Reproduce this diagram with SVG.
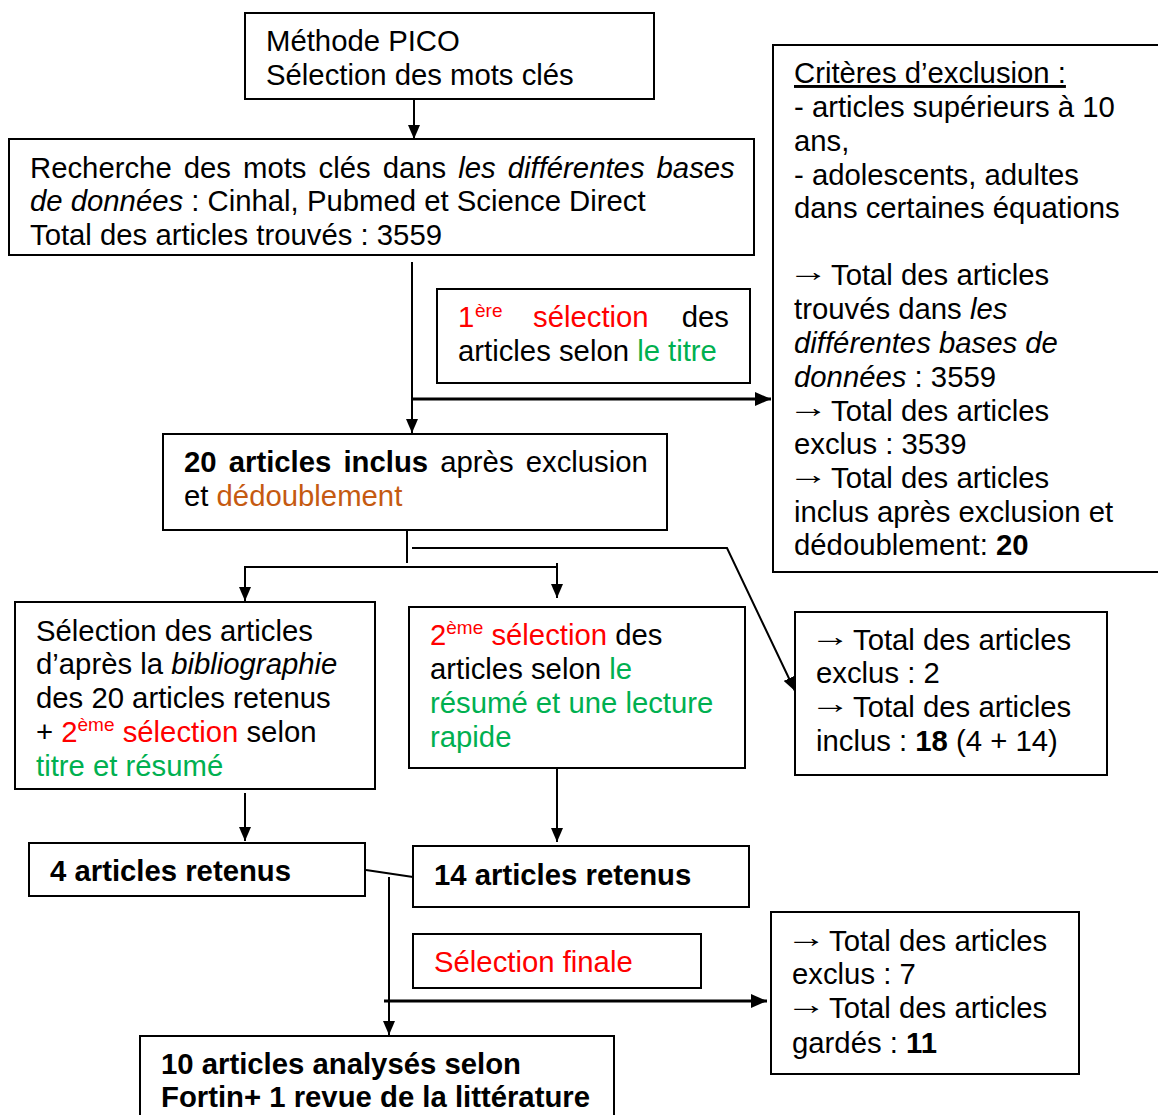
<svg xmlns="http://www.w3.org/2000/svg" width="1158" height="1115" viewBox="0 0 1158 1115">
<style>
text{font-family:"Liberation Sans",Arial,sans-serif;font-size:29.3px;fill:#000}
.box{fill:#fff;stroke:#000;stroke-width:2}
.b{font-weight:bold}
.i{font-style:italic}
.r{fill:#FF0000}
.g{fill:#00B050}
.o{fill:#C55A11}
.sup{font-size:19px}
.ln{fill:none;stroke:#000;stroke-width:2}
.thk{fill:none;stroke:#000;stroke-width:3}
</style>
<defs>
<marker id="ah" markerUnits="userSpaceOnUse" markerWidth="14" markerHeight="12" refX="14" refY="6" orient="auto">
<path d="M0,0 L14,6 L0,12 Z" fill="#000"/>
</marker>
<marker id="ahb" markerUnits="userSpaceOnUse" markerWidth="16" markerHeight="14" refX="16" refY="7" orient="auto">
<path d="M0,0 L16,7 L0,14 Z" fill="#000"/>
</marker>
</defs>
<rect width="1158" height="1115" fill="#fff"/>

<g id="connectors">
<line class="ln" x1="414" y1="99" x2="414" y2="139" marker-end="url(#ah)"/>
<line class="ln" x1="412" y1="262" x2="412" y2="433" marker-end="url(#ah)"/>
<line class="thk" x1="412" y1="399" x2="771" y2="399" marker-end="url(#ahb)"/>
<line class="ln" x1="407" y1="531" x2="407" y2="563"/>
<line class="ln" x1="245" y1="567" x2="558" y2="567"/>
<line class="ln" x1="245" y1="566" x2="245" y2="601" marker-end="url(#ah)"/>
<line class="ln" x1="557" y1="563" x2="557" y2="598" marker-end="url(#ah)"/>
<polyline class="ln" points="412,548 727,548 795,691" marker-end="url(#ah)"/>
<line class="ln" x1="245" y1="793" x2="245" y2="841" marker-end="url(#ah)"/>
<line class="ln" x1="557" y1="769" x2="557" y2="842" marker-end="url(#ah)"/>
<line class="ln" x1="366" y1="870" x2="413" y2="877"/>
<line class="ln" x1="389" y1="877" x2="389" y2="1035" marker-end="url(#ah)"/>
<line class="thk" x1="384" y1="1001" x2="767" y2="1001" marker-end="url(#ahb)"/>
</g>

<g id="pico">
<rect class="box" x="245" y="13" width="409" height="86"/>
<text x="266" y="51">Méthode PICO</text>
<text x="266" y="85">Sélection des mots clés</text>
</g>

<g id="recherche">
<rect class="box" x="9" y="139" width="745" height="116"/>
<text x="30" y="178" word-spacing="3.9">Recherche des mots clés dans <tspan class="i">les différentes bases</tspan></text>
<text x="30" y="211"><tspan class="i">de données</tspan> : Cinhal, Pubmed et Science Direct</text>
<text x="30" y="245">Total des articles trouvés : 3559</text>
</g>

<g id="selection1">
<rect class="box" x="437" y="289" width="313" height="94"/>
<text x="458" y="327" class="r">1</text>
<text x="475" y="317" class="r sup">ère</text>
<text x="533" y="327" class="r">sélection</text>
<text x="729" y="327" text-anchor="end">des</text>
<text x="458" y="361">articles selon <tspan class="g">le titre</tspan></text>
</g>

<g id="criteres">
<rect class="box" x="773" y="45" width="400" height="527"/>
<text x="794" y="83" text-decoration="underline">Critères d’exclusion :</text>
<text x="794" y="117">- articles supérieurs à 10</text>
<text x="794" y="151">ans,</text>
<text x="794" y="185">- adolescents, adultes</text>
<text x="794" y="218">dans certaines équations</text>
<text transform="translate(788,281) scale(1.38,1)">→</text>
<text x="831" y="285">Total des articles</text>
<text x="794" y="319">trouvés dans <tspan class="i">les</tspan></text>
<text x="794" y="353" class="i">différentes bases de</text>
<text x="794" y="387"><tspan class="i">données</tspan> : 3559</text>
<text transform="translate(788,417) scale(1.38,1)">→</text>
<text x="831" y="421">Total des articles</text>
<text x="794" y="454">exclus : 3539</text>
<text transform="translate(788,484) scale(1.38,1)">→</text>
<text x="831" y="488">Total des articles</text>
<text x="794" y="522">inclus après exclusion et</text>
<text x="794" y="555">dédoublement: <tspan class="b">20</tspan></text>
</g>

<g id="inclus20">
<rect class="box" x="163" y="434" width="504" height="96"/>
<text x="184" y="472" word-spacing="4"><tspan class="b">20 articles inclus</tspan> après exclusion</text>
<text x="184" y="506">et <tspan class="o">dédoublement</tspan></text>
</g>

<g id="bibliographie">
<rect class="box" x="15" y="602" width="360" height="187"/>
<text x="36" y="641">Sélection des articles</text>
<text x="36" y="674">d’après la <tspan class="i">bibliographie</tspan></text>
<text x="36" y="708">des 20 articles retenus</text>
<text x="36" y="742">+ <tspan class="r">2</tspan><tspan class="r sup" dy="-11">ème</tspan><tspan class="r" dy="11"> sélection</tspan> selon</text>
<text x="36" y="776" class="g">titre et résumé</text>
</g>

<g id="selection2">
<rect class="box" x="409" y="607" width="336" height="161"/>
<text x="430" y="645"><tspan class="r">2</tspan><tspan class="r sup" dy="-11">ème</tspan><tspan class="r" dy="11"> sélection</tspan> des</text>
<text x="430" y="679">articles selon <tspan class="g">le</tspan></text>
<text x="430" y="713" class="g">résumé et une lecture</text>
<text x="430" y="747" class="g">rapide</text>
</g>

<g id="total18">
<rect class="box" x="795" y="612" width="312" height="163"/>
<text transform="translate(810,646) scale(1.38,1)">→</text>
<text x="853" y="650">Total des articles</text>
<text x="816" y="683">exclus : 2</text>
<text transform="translate(810,713) scale(1.38,1)">→</text>
<text x="853" y="717">Total des articles</text>
<text x="816" y="751">inclus : <tspan class="b">18</tspan> (4 + 14)</text>
</g>

<g id="retenus4">
<rect class="box" x="29" y="843" width="336" height="53"/>
<text x="50" y="881" class="b">4 articles retenus</text>
</g>

<g id="retenus14">
<rect class="box" x="413" y="846" width="336" height="61"/>
<text x="434" y="885" class="b">14 articles retenus</text>
</g>

<g id="finale">
<rect class="box" x="413" y="934" width="288" height="54"/>
<text x="434" y="972" class="r">Sélection finale</text>
</g>

<g id="total11">
<rect class="box" x="771" y="912" width="308" height="162"/>
<text transform="translate(786,947) scale(1.38,1)">→</text>
<text x="829" y="951">Total des articles</text>
<text x="792" y="984">exclus : 7</text>
<text transform="translate(786,1014) scale(1.38,1)">→</text>
<text x="829" y="1018">Total des articles</text>
<text x="792" y="1053">gardés : <tspan class="b">11</tspan></text>
</g>

<g id="analyses">
<rect class="box" x="140" y="1036" width="474" height="100"/>
<text x="161" y="1074" class="b">10 articles analysés selon</text>
<text x="161" y="1107" class="b">Fortin+ 1 revue de la littérature</text>
</g>
</svg>
